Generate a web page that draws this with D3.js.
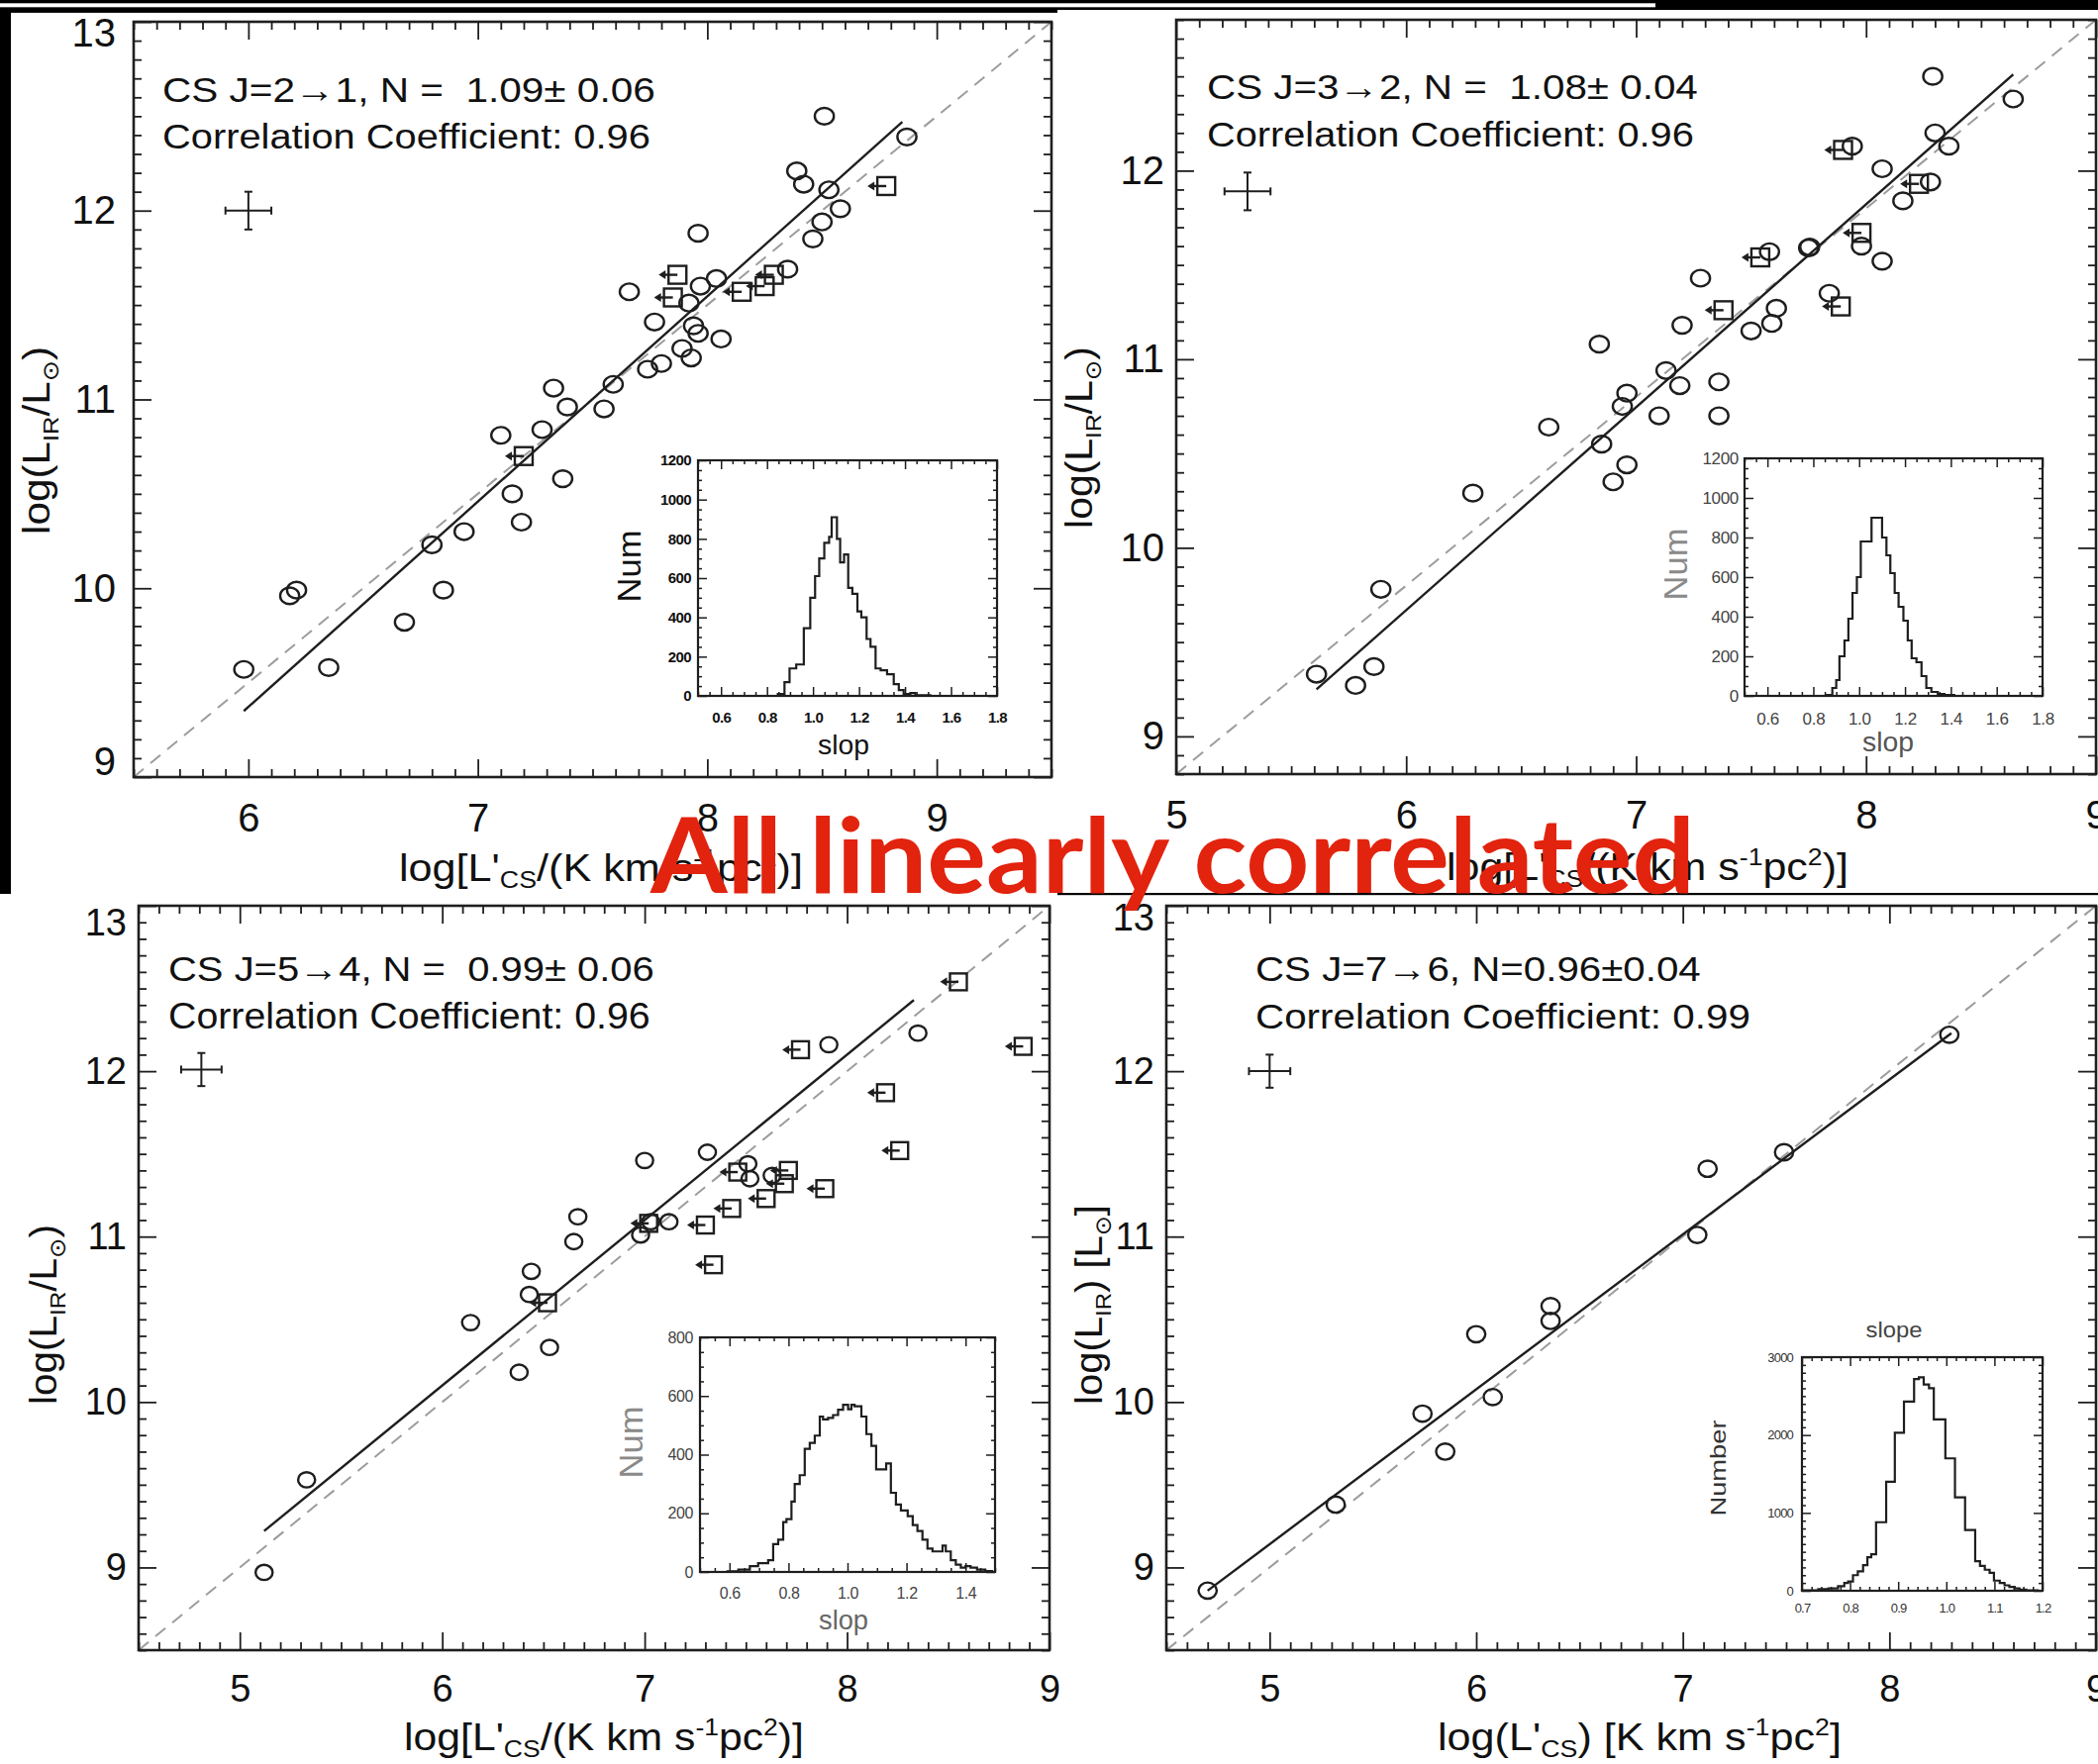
<!DOCTYPE html>
<html><head><meta charset="utf-8">
<script src="https://cdn.jsdelivr.net/npm/d3@7"></script>
<style>html,body{margin:0;padding:0;background:#fff;overflow:hidden}svg{display:block}</style>
</head><body>
<script>
// ---------------- DATA ----------------
// Panel 1: CS J=2-1
const p1Circles = [[5.98,9.57],[6.18,9.96],[6.21,9.99],[6.35,9.58],[6.68,9.82],[6.80,10.23],[6.85,9.99],[6.94,10.30],[7.10,10.81],[7.15,10.50],[7.19,10.35],[7.28,10.84],[7.33,11.06],[7.37,10.58],[7.39,10.96],[7.55,10.95],[7.59,11.08],[7.66,11.57],[7.74,11.16],[7.77,11.41],[7.80,11.19],[7.89,11.27],[7.92,11.51],[7.93,11.22],[7.94,11.39],[7.96,11.35],[7.96,11.88],[7.97,11.60],[8.04,11.64],[8.06,11.32],[8.35,11.69],[8.39,12.21],[8.42,12.14],[8.46,11.85],[8.50,11.94],[8.51,12.50],[8.53,12.11],[8.58,12.01],[8.87,12.39]];
const p1Limits = [[7.20,10.70],[7.87,11.66],[7.85,11.54],[8.15,11.57],[8.25,11.60],[8.29,11.66],[8.78,12.13]];
const p1Fit = [[5.98,9.35],[8.85,12.47]];
const p1OneToOne = [[5.5,9.0],[9.5,13.0]];
const p1ErrBar = {x:6.0, y:12.0, dx:0.1, dy:0.1};
const p1Text = ["CS J=2\u21921, N =  1.09\u00b1 0.06", "Correlation Coefficient: 0.96"];
const p1XTicks = [6,7,8,9], p1YTicks = [9,10,11,12,13];
const hist1 = [[0.847,10],[0.876,70],[0.898,140],[0.927,160],[0.960,345],[0.988,500],[1.009,610],[1.027,700],[1.049,780],[1.070,810],[1.081,910],[1.104,800],[1.118,680],[1.135,720],[1.153,550],[1.171,520],[1.193,430],[1.210,400],[1.233,290],[1.250,250],[1.272,140],[1.294,130],[1.322,110],[1.351,60],[1.373,30],[1.394,10],[1.423,15],[1.445,3]];
const hist1End = 1.51;

// Panel 2: CS J=3-2
const p2Circles = [[5.61,9.33],[5.78,9.27],[5.86,9.37],[5.89,9.78],[6.29,10.29],[6.62,10.64],[6.84,11.08],[6.85,10.55],[6.90,10.35],[6.94,10.75],[6.96,10.82],[6.96,10.44],[7.10,10.70],[7.13,10.94],[7.19,10.86],[7.20,11.18],[7.28,11.43],[7.36,10.88],[7.36,10.70],[7.50,11.15],[7.58,11.57],[7.59,11.19],[7.61,11.27],[7.75,11.59],[7.755,11.595],[7.84,11.35],[7.94,12.13],[7.98,11.60],[8.07,11.52],[8.07,12.01],[8.16,11.84],[8.28,11.94],[8.29,12.50],[8.30,12.20],[8.36,12.13],[8.64,12.38]];
const p2Limits = [[7.38,11.26],[7.54,11.54],[7.89,11.28],[7.90,12.11],[7.98,11.67],[8.23,11.93]];
const p2Fit = [[5.61,9.25],[8.64,12.51]];
const p2OneToOne = [[5.0,8.8],[9.0,12.8]];
const p2ErrBar = {x:5.31, y:11.89, dx:0.1, dy:0.1};
const p2Text = ["CS J=3\u21922, N =  1.08\u00b1 0.04", "Correlation Coefficient: 0.96"];
const p2XTicks = [5,6,7,8,9], p2YTicks = [9,10,11,12];
const hist2 = [[0.857,5],[0.883,40],[0.900,80],[0.914,200],[0.936,280],[0.953,390],[0.971,520],[0.990,600],[1.007,780],[1.054,900],[1.100,800],[1.119,710],[1.136,620],[1.155,520],[1.172,450],[1.193,380],[1.212,280],[1.229,190],[1.250,170],[1.272,100],[1.293,40],[1.315,20],[1.343,10],[1.372,5]];
const hist2End = 1.415;

// Panel 3: CS J=5-4
const p3Circles = [[5.12,8.97],[5.33,9.53],[6.14,10.48],[6.38,10.18],[6.43,10.65],[6.44,10.79],[6.53,10.33],[6.65,10.97],[6.67,11.12],[6.98,11.01],[7.00,11.46],[7.03,11.09],[7.12,11.09],[7.31,11.51],[7.51,11.44],[7.52,11.35],[7.63,11.37],[7.91,12.16],[8.35,12.23]];
const p3Limits = [[6.52,10.60],[7.02,11.08],[7.30,11.07],[7.34,10.83],[7.43,11.17],[7.46,11.39],[7.60,11.23],[7.69,11.32],[7.71,11.40],[7.77,12.13],[7.89,11.29],[8.19,11.87],[8.26,11.52],[8.55,12.54],[8.87,12.15]];
const p3Fit = [[5.12,9.22],[8.33,12.43]];
const p3OneToOne = [[4.5,8.5],[9.0,13.0]];
const p3ErrBar = {x:4.81, y:12.01, dx:0.1, dy:0.1};
const p3Text = ["CS J=5\u21924, N =  0.99\u00b1 0.06", "Correlation Coefficient: 0.96"];
const p3XTicks = [5,6,7,8,9], p3YTicks = [9,10,11,12,13];
const hist3 = [[0.593,2],[0.630,8],[0.669,20],[0.697,30],[0.731,40],[0.748,95],[0.765,110],[0.782,170],[0.793,180],[0.810,240],[0.821,300],[0.838,330],[0.855,420],[0.872,440],[0.889,465],[0.906,530],[0.917,520],[0.934,525],[0.951,535],[0.968,553],[0.985,570],[1.002,555],[1.013,570],[1.024,565],[1.047,530],[1.064,470],[1.081,430],[1.097,350],[1.114,350],[1.131,370],[1.147,270],[1.164,230],[1.181,210],[1.204,190],[1.221,160],[1.237,140],[1.254,110],[1.271,80],[1.288,70],[1.305,70],[1.322,90],[1.333,70],[1.350,40],[1.367,25],[1.384,15],[1.400,20],[1.417,15],[1.439,8],[1.467,3]];
const hist3End = 1.49;

// Panel 4: CS J=7-6
const p4Circles = [[4.70,8.86],[5.32,9.38],[5.74,9.93],[5.85,9.70],[6.00,10.41],[6.08,10.03],[6.36,10.58],[6.36,10.49],[7.07,11.01],[7.12,11.41],[7.49,11.51],[8.29,12.22]];
const p4Limits = [];
const p4Fit = [[4.70,8.86],[8.30,12.23]];
const p4OneToOne = [[4.5,8.5],[9.0,13.0]];
const p4ErrBar = {x:5.0, y:12.0, dx:0.1, dy:0.1};
const p4Text = ["CS J=7\u21926, N=0.96\u00b10.04", "Correlation Coefficient: 0.99"];
const p4XTicks = [5,6,7,8,9], p4YTicks = [9,10,11,12,13];
const hist4 = [[0.700,5],[0.734,20],[0.755,30],[0.775,60],[0.788,100],[0.796,120],[0.806,200],[0.816,250],[0.827,330],[0.836,430],[0.844,470],[0.854,880],[0.875,1400],[0.893,2030],[0.912,2430],[0.933,2720],[0.943,2740],[0.953,2650],[0.964,2600],[0.974,2200],[0.998,1700],[1.018,1200],[1.039,780],[1.060,380],[1.070,320],[1.080,270],[1.090,230],[1.099,130],[1.111,100],[1.121,70],[1.131,50],[1.142,30],[1.152,15],[1.166,5]];
const hist4End = 1.19;

const insetXTicksA = [0.6,0.8,1.0,1.2,1.4,1.6,1.8];
const insetYTicksA = [0,200,400,600,800,1000,1200];
const insetXTicks3 = [0.6,0.8,1.0,1.2,1.4];
const insetYTicks3 = [0,200,400,600,800];
const insetXTicks4 = [0.7,0.8,0.9,1.0,1.1,1.2];
const insetYTicks4 = [0,1000,2000,3000];

const headline = "All linearly correlated";

// ---------------- DRAWING ----------------
const W = 2119, H = 1782;
const FONT = "'Liberation Sans', Arial, 'DejaVu Sans', sans-serif";
const INK = "#1e1e1e";

const svg = d3.select("body").append("svg").attr("width", W).attr("height", H).attr("viewBox", `0 0 ${W} ${H}`);
svg.append("rect").attr("width", W).attr("height", H).attr("fill", "#fff");

function minorVals(dom, step, majors) {
  const a = Math.ceil(dom[0] / step - 1e-6), b = Math.floor(dom[1] / step + 1e-6);
  return d3.range(a, b + 1).map(k => +(k * step).toFixed(6))
    .filter(v => !majors.some(m => Math.abs(m - v) < 1e-6));
}

function fitText(parent, build, x, y, target, o) {
  const t = parent.append("text").attr("font-family", o.family || FONT)
    .attr("font-size", o.fs).attr("fill", o.color || INK)
    .attr("font-weight", o.weight || "normal")
    .attr("xml:space", "preserve").style("white-space", "pre");
  build(t);
  const w = t.node().getBBox().width;
  const k = w > 0 ? target / w : 1;
  t.attr("text-anchor", o.anchor || "start")
   .attr("transform", `translate(${x},${y}) rotate(${o.rotate || 0}) scale(${k},1)`);
  return t;
}

function axes(g, xs, ys, o) {
  const x0 = xs.range()[0], x1 = xs.range()[1], y0 = ys.range()[1], y1 = ys.range()[0];
  function mk(fn, scale, vals, size, fmt, pad, tx, ty) {
    const a = g.append("g").attr("transform", `translate(${tx},${ty})`)
      .call(fn(scale).tickValues(vals).tickSizeInner(-size).tickSizeOuter(0).tickPadding(pad).tickFormat(fmt));
    a.select(".domain").remove();
    a.attr("font-size", null).attr("font-family", null);
    a.selectAll("line").attr("stroke", INK).attr("stroke-width", o.tw);
    a.selectAll("text").attr("font-size", o.fs).attr("font-family", FONT)
      .attr("fill", o.tc).attr("font-weight", o.weight || "normal")
      .attr("letter-spacing", o.ls || 0);
    return a;
  }
  const none = () => "";
  const xm = minorVals(xs.domain(), o.xMinor, o.xt), ym = minorVals(ys.domain(), o.yMinor, o.yt);
  mk(d3.axisBottom, xs, o.xt, o.maj, o.xfmt, o.xpad, 0, y1);
  mk(d3.axisBottom, xs, xm, o.min, none, 0, 0, y1);
  mk(d3.axisTop, xs, o.xt, o.maj, none, 0, 0, y0);
  mk(d3.axisTop, xs, xm, o.min, none, 0, 0, y0);
  const ly = mk(d3.axisLeft, ys, o.yt, o.maj, o.yfmt, o.ypad, x0, 0);
  mk(d3.axisLeft, ys, ym, o.min, none, 0, x0, 0);
  mk(d3.axisRight, ys, o.yt, o.maj, none, 0, x1, 0);
  mk(d3.axisRight, ys, ym, o.min, none, 0, x1, 0);
  if (o.yShift) ly.selectAll(".tick text").attr("y", d => o.yShift[d] || 0);
  g.append("rect").attr("x", x0).attr("y", y0).attr("width", x1 - x0).attr("height", y1 - y0)
    .attr("fill", "none").attr("stroke", INK).attr("stroke-width", o.bw);
}

// y-axis titles
function yTitleRatio(t) { // log(L_IR/L_sun)
  t.append("tspan").attr("dy", "0.35em").text("log(L");
  t.append("tspan").attr("font-size", "60%").attr("dy", 9).text("IR");
  t.append("tspan").attr("dy", -9).text("/L");
  t.append("tspan").attr("font-size", "60%").attr("dy", 9).text("\u2299");
  t.append("tspan").attr("dy", -9).text(")");
}
function yTitleBracket(t) { // log(L_IR) [L_sun]
  t.append("tspan").attr("dy", "0.35em").text("log(L");
  t.append("tspan").attr("font-size", "60%").attr("dy", 9).text("IR");
  t.append("tspan").attr("dy", -9).text(") [L");
  t.append("tspan").attr("font-size", "60%").attr("dy", 9).text("\u2299");
  t.append("tspan").attr("dy", -9).text("]");
}
function xTitleRatio(t) { // log[L'cs/(K km s^-1 pc^2)]
  t.append("tspan").text("log[L'");
  t.append("tspan").attr("font-size", "62%").attr("dy", 7).text("CS");
  t.append("tspan").attr("dy", -7).text("/(K km s");
  t.append("tspan").attr("font-size", "62%").attr("dy", -15).text("-1");
  t.append("tspan").attr("dy", 15).text("pc");
  t.append("tspan").attr("font-size", "62%").attr("dy", -15).text("2");
  t.append("tspan").attr("dy", 15).text(")]");
}
function xTitleBracket(t) { // log(L'cs) [K km s^-1 pc^2]
  t.append("tspan").text("log(L'");
  t.append("tspan").attr("font-size", "62%").attr("dy", 7).text("CS");
  t.append("tspan").attr("dy", -7).text(") [K km s");
  t.append("tspan").attr("font-size", "62%").attr("dy", -15).text("-1");
  t.append("tspan").attr("dy", 15).text("pc");
  t.append("tspan").attr("font-size", "62%").attr("dy", -15).text("2");
  t.append("tspan").attr("dy", 15).text("]");
}

let clipN = 0;
function drawPanel(p) {
  const [x0, y0, x1, y1] = p.box;
  const xs = d3.scaleLinear().domain(p.xDomain).range([x0, x1]);
  const ys = d3.scaleLinear().domain(p.yDomain).range([y1, y0]);
  const g = svg.append("g");
  const cid = "clip" + (clipN++);
  g.append("clipPath").attr("id", cid).append("rect").attr("x", x0).attr("y", y0).attr("width", x1 - x0).attr("height", y1 - y0);
  const pg = g.append("g").attr("clip-path", `url(#${cid})`);

  // one-to-one dashed line
  pg.append("line").attr("x1", xs(p.oneToOne[0][0])).attr("y1", ys(p.oneToOne[0][1]))
    .attr("x2", xs(p.oneToOne[1][0])).attr("y2", ys(p.oneToOne[1][1]))
    .attr("stroke", "#9c9c9c").attr("stroke-width", 2).attr("stroke-dasharray", "13 9");
  // fit
  pg.append("line").attr("x1", xs(p.fit[0][0])).attr("y1", ys(p.fit[0][1]))
    .attr("x2", xs(p.fit[1][0])).attr("y2", ys(p.fit[1][1]))
    .attr("stroke", INK).attr("stroke-width", 2.4);
  // circles
  pg.selectAll("ellipse.pt").data(p.circles).join("ellipse").attr("class", "pt")
    .attr("cx", d => xs(d[0])).attr("cy", d => ys(d[1])).attr("rx", p.r[0]).attr("ry", p.r[1])
    .attr("fill", "none").attr("stroke", INK).attr("stroke-width", 2.4);
  // upper-limit squares with left arrows
  const sq = pg.selectAll("g.lim").data(p.limits).join("g").attr("class", "lim")
    .attr("transform", d => `translate(${xs(d[0])},${ys(d[1])})`);
  const s = p.sq;
  sq.append("rect").attr("x", -s / 2).attr("y", -s / 2).attr("width", s).attr("height", s)
    .attr("fill", "none").attr("stroke", INK).attr("stroke-width", 2.4);
  sq.append("line").attr("x1", 0).attr("y1", 0).attr("x2", -s / 2 - 4).attr("y2", 0)
    .attr("stroke", INK).attr("stroke-width", 2.4);
  sq.append("path").attr("d", `M${-s / 2 - 10},0 L${-s / 2 - 3},-4.5 L${-s / 2 - 3},4.5 Z`).attr("fill", INK);
  // error cross
  const e = p.err, eg = g.append("g").attr("stroke", INK).attr("stroke-width", 2);
  eg.append("line").attr("x1", xs(e.x - e.dx)).attr("x2", xs(e.x + e.dx)).attr("y1", ys(e.y)).attr("y2", ys(e.y));
  eg.append("line").attr("x1", xs(e.x)).attr("x2", xs(e.x)).attr("y1", ys(e.y - e.dy)).attr("y2", ys(e.y + e.dy));
  eg.append("line").attr("x1", xs(e.x - e.dx)).attr("x2", xs(e.x - e.dx)).attr("y1", ys(e.y) - 4).attr("y2", ys(e.y) + 4);
  eg.append("line").attr("x1", xs(e.x + e.dx)).attr("x2", xs(e.x + e.dx)).attr("y1", ys(e.y) - 4).attr("y2", ys(e.y) + 4);
  eg.append("line").attr("x1", xs(e.x) - 4).attr("x2", xs(e.x) + 4).attr("y1", ys(e.y - e.dy)).attr("y2", ys(e.y - e.dy));
  eg.append("line").attr("x1", xs(e.x) - 4).attr("x2", xs(e.x) + 4).attr("y1", ys(e.y + e.dy)).attr("y2", ys(e.y + e.dy));

  axes(g, xs, ys, {xt: p.xt, yt: p.yt, xMinor: 0.1, yMinor: 0.1, maj: 18, min: 8, tw: 1.8, bw: 2.6,
    fs: p.fs, tc: "#111", xpad: p.xpad, ypad: p.ypad, xfmt: d3.format("d"), yfmt: d3.format("d"), yShift: p.yShift});

  // annotations
  p.text.forEach((str, i) => {
    fitText(g, t => t.text(str), p.ann[i][0], p.ann[i][1], p.ann[i][2], {fs: 36, color: "#111"});
  });
  // axis titles
  fitText(g, p.yTitleFn, p.yTitle[0], p.yTitle[1], p.yTitle[2], {fs: 38, anchor: "middle", rotate: -90, color: "#111"});
  fitText(g, p.xTitleFn, p.xTitle[0], p.xTitle[1], p.xTitle[2], {fs: 38, color: "#111"});

  // inset histogram
  const q = p.inset;
  const [ix0, iy0, ix1, iy1] = q.box;
  const ixs = d3.scaleLinear().domain(q.xDomain).range([ix0, ix1]);
  const iys = d3.scaleLinear().domain(q.yDomain).range([iy1, iy0]);
  const ig = g.append("g");
  ig.append("rect").attr("x", ix0).attr("y", iy0).attr("width", ix1 - ix0).attr("height", iy1 - iy0).attr("fill", "#fff");
  const pts = [[q.xDomain[0], 0]].concat(q.hist, [[q.histEnd, 0], [q.xDomain[1], 0]]);
  const line = d3.line().x(d => ixs(d[0])).y(d => iys(d[1])).curve(d3.curveStepAfter);
  ig.append("path").attr("d", line(pts)).attr("fill", "none").attr("stroke", INK).attr("stroke-width", 2.2);
  axes(ig, ixs, iys, {xt: q.xt, yt: q.yt, xMinor: q.xMinor, yMinor: q.yMinor, maj: 9, min: 4, tw: 1.5, bw: 2.2,
    fs: q.fs, tc: q.tc, weight: q.weight, ls: q.ls, xpad: q.xpad, ypad: q.ypad, xfmt: d3.format(".1f"), yfmt: d3.format("d")});
  fitText(ig, t => t.append("tspan").attr("dy", "0.35em").text(q.yLab[0]), q.yLab[1], q.yLab[2], q.yLab[3],
    {fs: q.yLab[4], anchor: "middle", rotate: -90, color: q.yLab[5]});
  fitText(ig, t => t.text(q.xLab[0]), q.xLab[1], q.xLab[2], q.xLab[3], {fs: q.xLab[4], anchor: "middle", color: q.xLab[5]});
}

function draw() {
  // slide border fragments
  const bk = "#000";
  [[0, 0, 2119, 3.3], [1672, 0, 447, 10], [0, 7.3, 1068, 5.6], [1068, 7.3, 604, 2.7], [0, 12, 11, 891], [1068, 902, 1051, 2.2]]
    .forEach(r => svg.append("rect").attr("x", r[0]).attr("y", r[1]).attr("width", r[2]).attr("height", r[3]).attr("fill", bk));

  drawPanel({box: [135, 22, 1062, 785], xDomain: [5.5, 9.5], yDomain: [9, 13], xt: p1XTicks, yt: p1YTicks,
    yShift: {13: 12, 9: -15}, fs: 40, xpad: 27, ypad: 18,
    circles: p1Circles, limits: p1Limits, fit: p1Fit, oneToOne: p1OneToOne, err: p1ErrBar, r: [9.6, 8.4], sq: 18,
    text: p1Text, ann: [[164, 103, 498], [164, 150, 493]],
    yTitleFn: yTitleRatio, yTitle: [37, 445, 190], xTitleFn: xTitleRatio, xTitle: [403, 890, 408],
    inset: {box: [705, 465, 1007, 703], xDomain: [0.5, 1.8], yDomain: [0, 1200], xt: insetXTicksA, yt: insetYTicksA,
      xMinor: 0.05, yMinor: 50, hist: hist1, histEnd: hist1End, fs: 15, tc: "#111", weight: "bold", ls: -0.6, xpad: 16, ypad: 7,
      yLab: ["Num", 635, 572, 73, 33, "#111"], xLab: ["slop", 852, 762, 52, 27, "#111"]}});

  drawPanel({box: [1188, 20, 2117, 782], xDomain: [5, 9], yDomain: [8.8, 12.8], xt: p2XTicks, yt: p2YTicks,
    yShift: {}, fs: 40, xpad: 27, ypad: 12,
    circles: p2Circles, limits: p2Limits, fit: p2Fit, oneToOne: p2OneToOne, err: p2ErrBar, r: [9.6, 8.4], sq: 18,
    text: p2Text, ann: [[1219, 100, 496], [1219, 148, 492]],
    yTitleFn: yTitleRatio, yTitle: [1090, 442, 184], xTitleFn: xTitleRatio, xTitle: [1461, 889, 406],
    inset: {box: [1762, 463, 2063, 703], xDomain: [0.5, 1.8], yDomain: [0, 1200], xt: insetXTicksA, yt: insetYTicksA,
      xMinor: 0.05, yMinor: 50, hist: hist2, histEnd: hist2End, fs: 17, tc: "#444", weight: "normal", ls: -0.3, xpad: 17, ypad: 6,
      yLab: ["Num", 1692, 570, 73, 33, "#8a8a8a"], xLab: ["slop", 1907, 759, 52, 27, "#555"]}});

  drawPanel({box: [140, 915, 1060, 1667], xDomain: [4.5, 9], yDomain: [8.5, 13], xt: p3XTicks, yt: p3YTicks,
    yShift: {13: 17}, fs: 38, xpad: 25, ypad: 12,
    circles: p3Circles, limits: p3Limits, fit: p3Fit, oneToOne: p3OneToOne, err: p3ErrBar, r: [8.6, 7.7], sq: 17,
    text: p3Text, ann: [[170, 991, 491], [170, 1039, 487]],
    yTitleFn: yTitleRatio, yTitle: [44, 1328, 182], xTitleFn: xTitleRatio, xTitle: [408, 1768, 404],
    inset: {box: [707, 1351, 1005, 1588], xDomain: [0.5, 1.5], yDomain: [0, 800], xt: insetXTicks3, yt: insetYTicks3,
      xMinor: 0.05, yMinor: 50, hist: hist3, histEnd: hist3End, fs: 16, tc: "#444", weight: "normal", ls: -0.4, xpad: 16, ypad: 7,
      yLab: ["Num", 637, 1457, 73, 33, "#8a8a8a"], xLab: ["slop", 852, 1646, 50, 27, "#666"]}});

  drawPanel({box: [1178, 915, 2117, 1667], xDomain: [4.5, 9], yDomain: [8.5, 13], xt: p4XTicks, yt: p4YTicks,
    yShift: {13: 12}, fs: 38, xpad: 25, ypad: 12,
    circles: p4Circles, limits: p4Limits, fit: p4Fit, oneToOne: p4OneToOne, err: p4ErrBar, r: [9.2, 8.2], sq: 17,
    text: p4Text, ann: [[1268, 991, 450], [1268, 1039, 500]],
    yTitleFn: yTitleBracket, yTitle: [1100, 1318, 202], xTitleFn: xTitleBracket, xTitle: [1452, 1768, 408],
    inset: {box: [1820, 1371, 2063, 1607], xDomain: [0.7, 1.2], yDomain: [0, 3000], xt: insetXTicks4, yt: insetYTicks4,
      xMinor: 0.02, yMinor: 100, hist: hist4, histEnd: hist4End, fs: 13, tc: "#333", weight: "normal", ls: -0.8, xpad: 13, ypad: 9,
      yLab: ["Number", 1735, 1483, 97, 22, "#333"], xLab: ["slope", 1913, 1351, 57, 22, "#444"]}});

  // headline
  fitText(svg, t => t.text(headline), 657, 902, 1056, {fs: 106, family: "Lato, 'Open Sans', sans-serif", weight: "bold", color: "#e2230e"});
}

if (document.fonts && document.fonts.ready) document.fonts.ready.then(draw); else draw();
</script>
</body></html>
